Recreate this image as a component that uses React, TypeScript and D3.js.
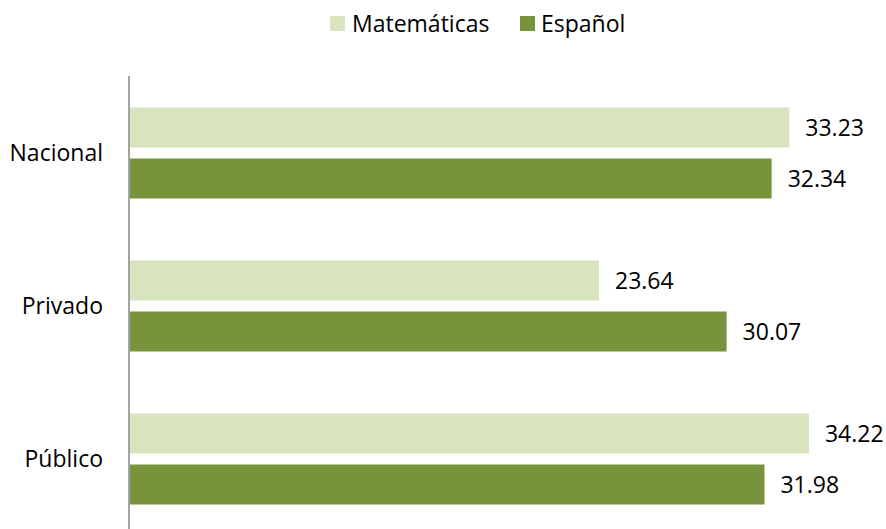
import React from "react";
import * as d3 from "d3";

const categories = ["Nacional", "Privado", "Público"];
const seriesNames = ["Matemáticas", "Español"];
const matematicas = [33.23, 23.64, 34.22];
const espanol = [32.34, 30.07, 31.98];
const colors = ["#d7e4bd", "#77933c"];

const W = 886;
const H = 529;
const FONT = "'Open Sans', sans-serif";
const FS = 23;

export default function App() {
  const x = d3.scaleLinear().domain([0, 35]).range([130, 130 + 19.84 * 35]);
  const y = d3.scaleBand().domain(categories).range([76.5, 535.5]).paddingInner(0).paddingOuter(0);
  const bw = y.bandwidth();
  const inner = d3
    .scaleBand()
    .domain(seriesNames)
    .range([bw / 2 - 45.5, bw / 2 + 45.5])
    .paddingInner(11 / 51)
    .paddingOuter(0);
  const values = [matematicas, espanol];

  return (
    <svg
      width={W}
      height={H}
      style={{ position: "absolute", left: 0, top: 0, background: "#fff" }}
      fontFamily={FONT}
    >
      {/* legend */}
      <g>
        <rect x={330} y={16} width={15} height={15} fill={colors[0]} />
        <text x={352} y={22.5} dominantBaseline="central" fontSize={FS} fill="#000">
          {seriesNames[0]}
        </text>
        <rect x={520} y={16} width={15} height={15} fill={colors[1]} />
        <text x={541} y={22.5} dominantBaseline="central" fontSize={FS} fill="#000">
          {seriesNames[1]}
        </text>
      </g>
      {/* bars */}
      {categories.map((c, i) => (
        <g key={c} transform={`translate(0,${y(c)})`}>
          {seriesNames.map((s, j) => {
            const v = values[j][i];
            const yy = inner(s)!;
            return (
              <g key={s}>
                <rect
                  x={x(0)}
                  y={yy}
                  width={x(v) - x(0)}
                  height={inner.bandwidth()}
                  fill={colors[j]}
                />
                <text
                  x={x(v) + 16}
                  y={yy + inner.bandwidth() / 2 - 1}
                  dominantBaseline="central"
                  fontSize={FS}
                  fill="#000"
                >
                  {v.toFixed(2)}
                </text>
              </g>
            );
          })}
          <text
            x={103}
            y={bw / 2 - 1}
            textAnchor="end"
            dominantBaseline="central"
            fontSize={FS}
            fill="#000"
          >
            {c}
          </text>
        </g>
      ))}
      {/* axis */}
      <line x1={129} x2={129} y1={76} y2={H} stroke="#868686" strokeWidth={1.5} />
    </svg>
  );
}
